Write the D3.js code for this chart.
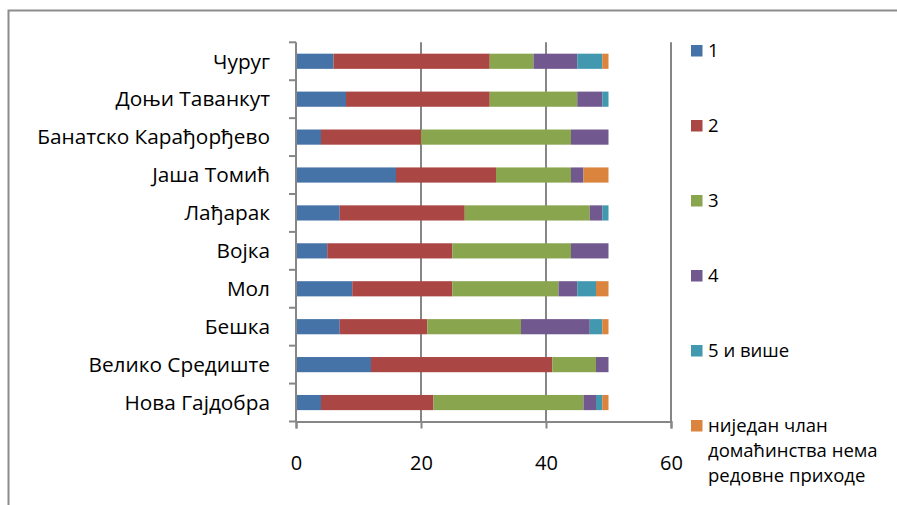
<!DOCTYPE html>
<html><head><meta charset="utf-8">
<script src="https://cdn.jsdelivr.net/npm/d3@7/dist/d3.min.js"></script>
<style>
body{margin:0;background:#fff;}
text{font-family:"Open Sans",sans-serif;fill:#000;}
</style></head>
<body><svg id="c" width="897" height="505"></svg>
<script>
const categories = ["Чуруг","Доњи Таванкут","Банатско Карађорђево","Јаша Томић","Лађарак","Војка","Мол","Бешка","Велико Средиште","Нова Гајдобра"];
const seriesNames = ["1","2","3","4","5 и више","ниједан члан домаћинства нема редовне приходе"];
const s1 = [6, 8, 4, 16, 7, 5, 9, 7, 12, 4];
const s2 = [25, 23, 16, 16, 20, 20, 16, 14, 29, 18];
const s3 = [7, 14, 24, 12, 20, 19, 17, 15, 7, 24];
const s4 = [7, 4, 6, 2, 2, 6, 3, 11, 2, 2];
const s5 = [4, 1, 0, 0, 1, 0, 3, 2, 0, 1];
const s6 = [1, 0, 0, 4, 0, 0, 2, 1, 0, 1];
const xTicks = [0, 20, 40, 60];
const colors = ["#4572A7","#AA4643","#89A54E","#71588F","#4198AF","#DB843D"];
const legendLines = [["1"],["2"],["3"],["4"],["5 и више"],["ниједан члан","домаћинства нема","редовне приходе"]];

const seriesVals = [s1,s2,s3,s4,s5,s6];
const rows = categories.map((c,i)=>{const o={cat:c}; seriesNames.forEach((s,k)=>o[s]=seriesVals[k][i]); return o;});
const stack = d3.stack().keys(seriesNames)(rows);

const svg = d3.select("#c");
const gray = "#868686";
svg.append("rect").attr("x",8.5).attr("y",10.5).attr("width",1000).attr("height",1000)
  .attr("fill","none").attr("stroke","#8c8c8c").attr("stroke-width",2);

const x = d3.scaleLinear().domain([0,60]).range([296,671]);
const y = d3.scaleBand().domain(categories).range([42.3,421.5]).paddingInner(0.6).paddingOuter(0.3);

// grid
svg.append("g").selectAll("line").data(xTicks.filter(t=>t>0)).join("line")
  .attr("x1",d=>x(d)).attr("x2",d=>x(d)).attr("y1",42.3).attr("y2",421.5)
  .attr("stroke",gray).attr("stroke-width",2);

// bars
svg.append("g").selectAll("g").data(stack).join("g").attr("fill",(d,i)=>colors[i])
  .selectAll("rect").data(d=>d).join("rect")
  .attr("x",d=>x(d[0])).attr("width",d=>x(d[1])-x(d[0]))
  .attr("y",d=>y(d.data.cat)).attr("height",y.bandwidth());

// y axis
const yStep = y.step();
const yb = svg.append("g");
yb.append("line").attr("x1",296).attr("x2",296).attr("y1",42.3).attr("y2",421.5).attr("stroke",gray).attr("stroke-width",2);
yb.selectAll("line.t").data(d3.range(categories.length+1)).join("line").attr("class","t")
  .attr("x1",289).attr("x2",296).attr("y1",i=>42.3+i*yStep).attr("y2",i=>42.3+i*yStep)
  .attr("stroke",gray).attr("stroke-width",2);
yb.selectAll("text").data(categories).join("text")
  .attr("x",270).attr("y",d=>y(d)+y.bandwidth()/2).attr("dy","0.35em")
  .attr("text-anchor","end").attr("font-size",20.8).text(d=>d);

// x axis
const xa = svg.append("g").attr("transform","translate(0,421.5)")
  .call(d3.axisBottom(x).tickValues(xTicks).tickSize(7).tickPadding(0).tickFormat(d3.format("d")));
xa.select(".domain").attr("stroke",gray).attr("stroke-width",2);
xa.selectAll(".tick line").attr("stroke",gray).attr("stroke-width",2);
xa.selectAll(".tick text").attr("font-family","Open Sans").attr("font-size",20)
  .attr("fill","#000").attr("y",48).attr("dy",0);

// legend
const lg = svg.append("g");
legendLines.forEach((lines,i)=>{
  const cy = 51 + i*75;
  lg.append("rect").attr("x",691).attr("y",cy-6).attr("width",11.5).attr("height",11.5).attr("fill",colors[i]);
  lines.forEach((t,j)=>{
    lg.append("text").attr("x",708).attr("y",cy + j*25).attr("dy","0.35em").attr("font-size",18.5).text(t);
  });
});
</script></body></html>
